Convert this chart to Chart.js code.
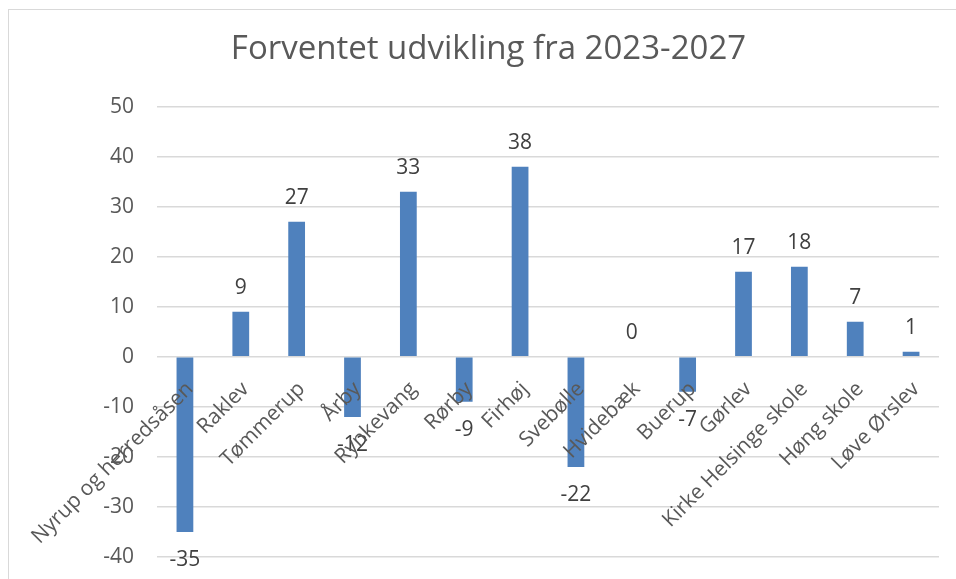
<!DOCTYPE html>
<html>
<head>
<meta charset="utf-8">
<script src="https://cdn.jsdelivr.net/npm/chart.js@4.4.0/dist/chart.umd.min.js"></script>
<style>
  html, body { margin: 0; padding: 0; background: #fff; overflow: hidden; }
  #frame { position: absolute; left: 8px; top: 9px; width: 1000px; height: 700px; border: 1px solid #d9d9d9; }
  #myChart { position: absolute; left: 0; top: 0; }
</style>
</head>
<body>
<div id="frame"></div>
<canvas id="myChart" width="956" height="579"></canvas>
<script>
const categories = ['Nyrup og herredsåsen', 'Raklev', 'Tømmerup', 'Årby', 'Rynkevang', 'Rørby', 'Firhøj',
    'Svebølle', 'Hvidebæk', 'Buerup', 'Gørlev', 'Kirke Helsinge skole', 'Høng skole', 'Løve Ørslev'];
const values = [-35, 9, 27, -12, 33, -9, 38, -22, 0, -7, 17, 18, 7, 1];
const yMin = -40;
const yMax = 50;
const yStep = 10;

const fontFamily = '"Open Sans", "Noto Sans", sans-serif';
const textColor = '#595959';

// value labels above (positive) or below (negative) each bar
const valueLabels = {
    id: 'valueLabels',
    afterDatasetsDraw(chart) {
        const ctx = chart.ctx;
        const meta = chart.getDatasetMeta(0);
        ctx.save();
        ctx.font = '21px ' + fontFamily;
        ctx.fillStyle = '#404040';
        ctx.textAlign = 'center';
        ctx.textBaseline = 'middle';
        meta.data.forEach((bar, i) => {
            const v = values[i];
            const y = v >= 0 ? bar.y - 24 : bar.y + 28;
            ctx.fillText(String(v), bar.x, y);
        });
        ctx.restore();
    }
};

const ctx = document.getElementById('myChart').getContext('2d');
const chart = new Chart(ctx, {
    type: 'bar',
    data: {
        labels: categories,
        datasets: [{
            data: values,
            backgroundColor: '#4f81bd',
            borderWidth: 0,
            barPercentage: 0.3,
            categoryPercentage: 1
        }]
    },
    options: {
        responsive: false,
        animation: false,
        layout: { padding: { left: 38, right: 17, top: 0, bottom: 22 } },
        plugins: {
            legend: { display: false },
            tooltip: { enabled: false },
            title: {
                display: true,
                text: 'Forventet udvikling fra 2023-2027',
                color: textColor,
                font: { family: fontFamily, size: 33, weight: 'normal' },
                padding: { top: 30, bottom: 37 }
            }
        },
        scales: {
            x: {
                position: { y: 0 },
                afterFit: (scale) => { scale.height = 0; },
                grid: { display: false, drawTicks: false },
                border: { display: false },
                ticks: {
                    z: 1,
                    autoSkip: false,
                    minRotation: 45,
                    maxRotation: 45,
                    padding: 20,
                    labelOffset: 5,
                    color: textColor,
                    font: { family: fontFamily, size: 21 }
                }
            },
            y: {
                min: yMin,
                max: yMax,
                afterFit: (scale) => {
                    scale.width = 119;
                    scale.paddingTop = 0;
                    scale.paddingBottom = 0;
                },
                grid: { color: '#d9d9d9', lineWidth: 1.5, drawTicks: false },
                border: { display: false },
                ticks: {
                    stepSize: yStep,
                    padding: 23,
                    color: textColor,
                    font: { family: fontFamily, size: 21 }
                }
            }
        }
    },
    plugins: [valueLabels]
});
</script>
</body>
</html>
